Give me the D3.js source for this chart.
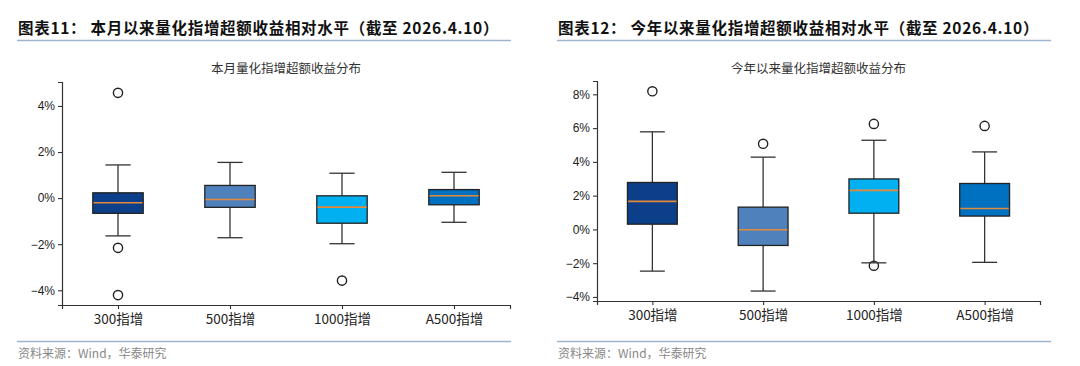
<!DOCTYPE html>
<html>
<head>
<meta charset="utf-8">
<script src="https://cdn.jsdelivr.net/npm/d3@7"></script>
<style>
  body { margin: 0; background: #fff; }
  svg { display: block; }
</style>
</head>
<body>
<svg id="chart" width="1080" height="366"></svg>
<script>
// index names, same in both panels
const categories = ["300指增", "500指增", "1000指增", "A500指增"];
const boxColors = ["#0b3f8a", "#4f81bd", "#00b0f0", "#0070c0"];

// month-to-date excess return (%)
const monthLow = [-1.64, -1.72, -1.98, -1.05];
const monthQ1 = [-0.66, -0.40, -1.09, -0.29];
const monthMedian = [-0.20, -0.06, -0.39, 0.10];
const monthQ3 = [0.23, 0.55, 0.10, 0.37];
const monthHigh = [1.44, 1.55, 1.08, 1.12];
const monthOutliers = [[4.57, -2.16, -4.21], [], [-3.58], []];
const monthTicks = [-4, -2, 0, 2, 4];

// year-to-date excess return (%)
const yearLow = [-2.47, -3.65, -1.98, -1.95];
const yearQ1 = [0.31, -0.95, 0.96, 0.79];
const yearMedian = [1.66, -0.02, 2.31, 1.24];
const yearQ3 = [2.78, 1.32, 2.99, 2.72];
const yearHigh = [5.78, 4.28, 5.28, 4.59];
const yearOutliers = [[8.18], [5.07], [6.25, -2.15], [6.13]];
const yearTicks = [-4, -2, 0, 2, 4, 6, 8];

const svg = d3.select("#chart");
const cjk = "'Noto Sans CJK SC', 'Noto Sans', sans-serif";
const latin = "'Liberation Sans', Arial, sans-serif";

function fmtPct(d) {
  return (d < 0 ? "\u2212" + Math.abs(d) : d) + "%";
}

function header(x0, x1, text) {
  svg.append("text")
    .attr("x", x0 + 1).attr("y", 34)
    .attr("font-family", cjk).attr("font-size", 15.5).attr("font-weight", "bold")
    .attr("letter-spacing", 0.7)
    .attr("fill", "#111")
    .text(text);
  svg.append("line")
    .attr("x1", x0).attr("x2", x1).attr("y1", 40.5).attr("y2", 40.5)
    .attr("stroke", "#9fb4cf").attr("stroke-width", 1.5);
  // footer
  svg.append("line")
    .attr("x1", x0).attr("x2", x1).attr("y1", 341.5).attr("y2", 341.5)
    .attr("stroke", "#9fb4cf").attr("stroke-width", 1.5);
  svg.append("text")
    .attr("x", x0 + 1).attr("y", 358)
    .attr("font-family", cjk).attr("font-size", 12)
    .attr("fill", "#888")
    .text("资料来源：Wind，华泰研究");
}

function boxPanel(opt) {
  const rows = categories.map(function(c, i) {
    return {
      name: c, color: boxColors[i], pos: i + 1,
      low: opt.low[i], q1: opt.q1[i], med: opt.median[i],
      q3: opt.q3[i], high: opt.high[i], out: opt.outliers[i]
    };
  });

  const x = d3.scaleLinear().domain([0.5, 4.5]).range([opt.left, opt.right]);
  const y = d3.scaleLinear().domain(opt.yDomain).range([opt.bottom, opt.top]);
  const half = x(1.225) - x(1);         // box half width (0.45 wide)
  const cap = x(1.1125) - x(1);         // cap half width

  const g = svg.append("g");

  // title
  g.append("text")
    .attr("x", (opt.left + opt.right) / 2).attr("y", 73)
    .attr("text-anchor", "middle")
    .attr("font-family", cjk).attr("font-size", 12.5)
    .attr("fill", "#333")
    .text(opt.title);

  // axes
  const yAxis = d3.axisLeft(y).tickValues(opt.ticks).tickSize(4).tickFormat(fmtPct);
  const ya = g.append("g").attr("transform", "translate(" + opt.left + ",0)").call(yAxis);
  const xAxis = d3.axisBottom(x).tickValues([1, 2, 3, 4]).tickSize(4)
    .tickFormat(function(d) { return categories[d - 1]; });
  const xa = g.append("g").attr("transform", "translate(0," + opt.bottom + ")").call(xAxis);
  [ya, xa].forEach(function(a) {
    a.select(".domain").attr("stroke", "#333").attr("stroke-width", 1.2);
    a.selectAll(".tick line").attr("stroke", "#333").attr("stroke-width", 1.1);
    a.selectAll(".tick text").attr("fill", "#222").attr("font-family", latin);
  });
  ya.selectAll(".tick text").attr("font-size", 12).attr("x", -7);
  xa.selectAll(".tick text").attr("font-size", 13.5).attr("y", 9).attr("font-family", cjk);

  const box = g.selectAll(".box").data(rows).enter().append("g").attr("class", "box");

  // whiskers
  box.append("line")
    .attr("x1", function(d) { return x(d.pos); }).attr("x2", function(d) { return x(d.pos); })
    .attr("y1", function(d) { return y(d.high); }).attr("y2", function(d) { return y(d.q3); })
    .attr("stroke", "#333").attr("stroke-width", 1.3);
  box.append("line")
    .attr("x1", function(d) { return x(d.pos); }).attr("x2", function(d) { return x(d.pos); })
    .attr("y1", function(d) { return y(d.q1); }).attr("y2", function(d) { return y(d.low); })
    .attr("stroke", "#333").attr("stroke-width", 1.3);
  ["high", "low"].forEach(function(k) {
    box.append("line")
      .attr("x1", function(d) { return x(d.pos) - cap; }).attr("x2", function(d) { return x(d.pos) + cap; })
      .attr("y1", function(d) { return y(d[k]); }).attr("y2", function(d) { return y(d[k]); })
      .attr("stroke", "#333").attr("stroke-width", 1.3);
  });

  // boxes
  box.append("rect")
    .attr("x", function(d) { return x(d.pos) - half; })
    .attr("width", half * 2)
    .attr("y", function(d) { return y(d.q3); })
    .attr("height", function(d) { return y(d.q1) - y(d.q3); })
    .attr("fill", function(d) { return d.color; })
    .attr("stroke", "#222").attr("stroke-width", 1.3);

  // medians
  box.append("line")
    .attr("x1", function(d) { return x(d.pos) - half + 0.7; }).attr("x2", function(d) { return x(d.pos) + half - 0.7; })
    .attr("y1", function(d) { return y(d.med); }).attr("y2", function(d) { return y(d.med); })
    .attr("stroke", "#e5893a").attr("stroke-width", 1.6);

  // outliers
  box.selectAll("circle")
    .data(function(d) { return d.out.map(function(v) { return { pos: d.pos, v: v }; }); })
    .enter().append("circle")
    .attr("cx", function(d) { return x(d.pos); })
    .attr("cy", function(d) { return y(d.v); })
    .attr("r", 4.6)
    .attr("fill", "none").attr("stroke", "#222").attr("stroke-width", 1.4);
}

header(17, 511, "图表11：  本月以来量化指增超额收益相对水平（截至 2026.4.10）");
header(557, 1051, "图表12：  今年以来量化指增超额收益相对水平（截至 2026.4.10）");

boxPanel({
  title: "本月量化指增超额收益分布",
  left: 62, right: 510, top: 82, bottom: 305,
  yDomain: [-4.64, 5.04], ticks: monthTicks,
  low: monthLow, q1: monthQ1, median: monthMedian, q3: monthQ3, high: monthHigh,
  outliers: monthOutliers
});

boxPanel({
  title: "今年以来量化指增超额收益分布",
  left: 597, right: 1040, top: 81, bottom: 301,
  yDomain: [-4.24, 8.79], ticks: yearTicks,
  low: yearLow, q1: yearQ1, median: yearMedian, q3: yearQ3, high: yearHigh,
  outliers: yearOutliers
});
</script>
</body>
</html>
